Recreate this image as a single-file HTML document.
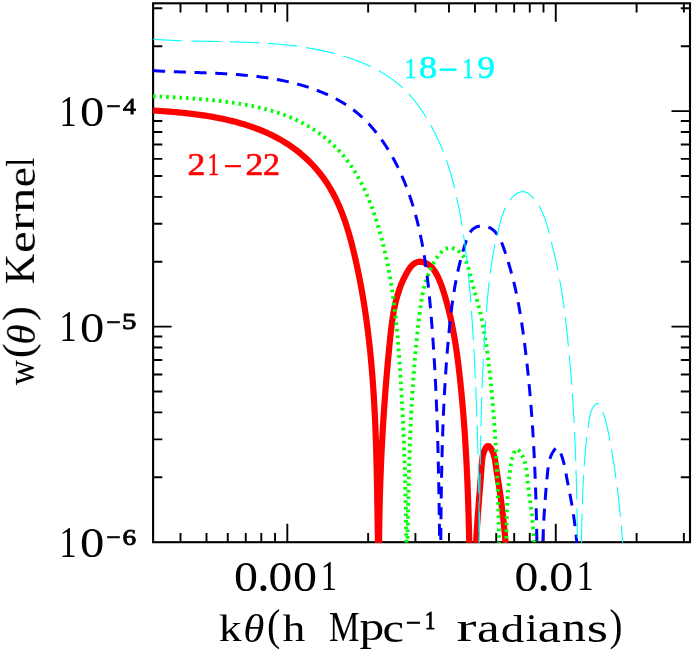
<!DOCTYPE html>
<html><head><meta charset="utf-8"><title>w(theta) Kernel</title>
<style>
html,body{margin:0;padding:0;background:#fff}
svg{display:block}
text{font-family:"Liberation Serif",serif}
</style></head><body>
<svg width="692" height="649" viewBox="0 0 692 649">
<rect width="692" height="649" fill="#fff"/>
<defs><clipPath id="c"><rect x="152.6" y="3.3" width="537.4" height="539.5"/></clipPath></defs>
<path d="M180.50 542.20v-9.20 M180.50 3.30v9.20 M206.51 542.20v-9.20 M206.51 3.30v9.20 M227.77 542.20v-9.20 M227.77 3.30v9.20 M245.74 542.20v-9.20 M245.74 3.30v9.20 M261.31 542.20v-9.20 M261.31 3.30v9.20 M275.04 542.20v-9.20 M275.04 3.30v9.20 M287.32 542.20v-18.50 M287.32 3.30v18.50 M368.14 542.20v-9.20 M368.14 3.30v9.20 M415.41 542.20v-9.20 M415.41 3.30v9.20 M448.95 542.20v-9.20 M448.95 3.30v9.20 M474.96 542.20v-9.20 M474.96 3.30v9.20 M496.22 542.20v-9.20 M496.22 3.30v9.20 M514.19 542.20v-9.20 M514.19 3.30v9.20 M529.76 542.20v-9.20 M529.76 3.30v9.20 M543.49 542.20v-9.20 M543.49 3.30v9.20 M555.77 542.20v-18.50 M555.77 3.30v18.50 M636.59 542.20v-9.20 M636.59 3.30v9.20 M683.86 542.20v-9.20 M683.86 3.30v9.20 M153.10 477.31h9.20 M690.00 477.31h-9.20 M153.10 439.35h9.20 M690.00 439.35h-9.20 M153.10 412.42h9.20 M690.00 412.42h-9.20 M153.10 391.53h9.20 M690.00 391.53h-9.20 M153.10 374.46h9.20 M690.00 374.46h-9.20 M153.10 360.03h9.20 M690.00 360.03h-9.20 M153.10 347.53h9.20 M690.00 347.53h-9.20 M153.10 336.50h9.20 M690.00 336.50h-9.20 M153.10 326.64h18.50 M690.00 326.64h-18.50 M153.10 261.75h9.20 M690.00 261.75h-9.20 M153.10 223.79h9.20 M690.00 223.79h-9.20 M153.10 196.86h9.20 M690.00 196.86h-9.20 M153.10 175.97h9.20 M690.00 175.97h-9.20 M153.10 158.90h9.20 M690.00 158.90h-9.20 M153.10 144.47h9.20 M690.00 144.47h-9.20 M153.10 131.97h9.20 M690.00 131.97h-9.20 M153.10 120.94h9.20 M690.00 120.94h-9.20 M153.10 111.08h18.50 M690.00 111.08h-18.50 M153.10 46.19h9.20 M690.00 46.19h-9.20 M153.10 8.23h9.20 M690.00 8.23h-9.20" stroke="#000" stroke-width="1.9" fill="none"/>
<rect x="153.1" y="3.3" width="536.9" height="538.9" fill="none" stroke="#000" stroke-width="2.1"/>
<g clip-path="url(#c)" fill="none" stroke-linejoin="round">
<path d="M153.06 110.55 L154.95 110.66 L156.84 110.78 L158.74 110.89 L160.64 111.02 L162.55 111.15 L164.47 111.28 L166.39 111.42 L168.31 111.56 L170.24 111.71 L172.18 111.87 L174.11 112.03 L176.05 112.20 L178.00 112.37 L179.94 112.55 L181.89 112.74 L183.84 112.94 L185.80 113.14 L187.75 113.36 L189.71 113.58 L191.67 113.81 L193.62 114.05 L195.58 114.30 L197.54 114.55 L199.50 114.82 L201.46 115.10 L203.42 115.39 L205.38 115.68 L207.34 115.99 L209.30 116.31 L211.25 116.65 L213.20 116.99 L215.15 117.34 L217.10 117.71 L219.05 118.09 L220.99 118.49 L222.93 118.89 L224.87 119.31 L226.80 119.74 L228.73 120.19 L230.65 120.65 L232.57 121.13 L234.48 121.62 L236.39 122.12 L238.29 122.64 L240.19 123.18 L242.08 123.73 L243.97 124.29 L245.85 124.88 L247.72 125.48 L249.58 126.09 L251.44 126.73 L253.29 127.38 L255.13 128.05 L256.96 128.73 L258.79 129.44 L260.60 130.16 L262.41 130.90 L264.20 131.66 L265.99 132.44 L267.77 133.24 L269.53 134.06 L271.29 134.90 L273.04 135.76 L274.77 136.64 L276.49 137.54 L278.20 138.47 L279.90 139.41 L281.59 140.38 L283.26 141.36 L284.92 142.37 L286.57 143.41 L288.21 144.46 L289.83 145.54 L291.44 146.64 L293.03 147.77 L294.61 148.92 L296.17 150.09 L297.72 151.29 L299.25 152.51 L300.77 153.75 L302.27 155.03 L303.76 156.32 L305.23 157.64 L306.67 158.98 L308.10 160.35 L309.52 161.73 L310.91 163.14 L312.28 164.56 L313.63 166.01 L314.95 167.47 L316.26 168.96 L317.54 170.46 L318.80 171.98 L320.03 173.51 L321.24 175.06 L322.42 176.63 L323.58 178.21 L324.71 179.81 L325.81 181.42 L326.89 183.04 L327.94 184.68 L328.97 186.33 L329.98 187.99 L330.96 189.66 L331.92 191.35 L332.85 193.05 L333.76 194.76 L334.66 196.48 L335.53 198.22 L336.38 199.96 L337.21 201.71 L338.02 203.48 L338.81 205.25 L339.58 207.03 L340.33 208.82 L341.07 210.62 L341.79 212.43 L342.49 214.25 L343.17 216.07 L343.84 217.90 L344.50 219.74 L345.13 221.58 L345.76 223.43 L346.37 225.29 L346.96 227.15 L347.55 229.02 L348.12 230.90 L348.68 232.77 L349.22 234.66 L349.76 236.54 L350.29 238.44 L350.80 240.33 L351.31 242.23 L351.80 244.13 L352.29 246.03 L352.77 247.94 L353.24 249.84 L353.70 251.75 L354.16 253.66 L354.61 255.58 L355.06 257.49 L355.49 259.40 L355.93 261.32 L356.35 263.23 L356.77 265.15 L357.19 267.06 L357.59 268.98 L358.00 270.90 L358.39 272.81 L358.78 274.73 L359.17 276.65 L359.55 278.58 L359.92 280.50 L360.29 282.42 L360.65 284.34 L361.01 286.27 L361.36 288.19 L361.71 290.12 L362.05 292.04 L362.39 293.97 L362.72 295.90 L363.04 297.82 L363.36 299.75 L363.68 301.68 L363.99 303.61 L364.29 305.54 L364.60 307.47 L364.89 309.41 L365.18 311.34 L365.47 313.27 L365.75 315.20 L366.02 317.14 L366.29 319.07 L366.56 321.01 L366.82 322.94 L367.08 324.88 L367.33 326.82 L367.58 328.76 L367.83 330.69 L368.07 332.63 L368.30 334.57 L368.53 336.51 L368.76 338.45 L368.98 340.39 L369.20 342.33 L369.42 344.28 L369.63 346.22 L369.83 348.16 L370.03 350.10 L370.23 352.05 L370.43 353.99 L370.62 355.94 L370.81 357.88 L370.99 359.83 L371.17 361.77 L371.34 363.72 L371.52 365.67 L371.69 367.61 L371.85 369.56 L372.01 371.51 L372.17 373.46 L372.33 375.41 L372.48 377.35 L372.62 379.30 L372.77 381.25 L372.91 383.20 L373.05 385.15 L373.19 387.10 L373.32 389.06 L373.45 391.01 L373.57 392.96 L373.70 394.91 L373.82 396.86 L373.94 398.81 L374.05 400.77 L374.16 402.72 L374.27 404.67 L374.38 406.63 L374.48 408.58 L374.59 410.53 L374.69 412.49 L374.78 414.44 L374.88 416.40 L374.97 418.35 L375.06 420.31 L375.15 422.26 L375.23 424.22 L375.31 426.17 L375.39 428.13 L375.47 430.08 L375.55 432.04 L375.62 433.99 L375.70 435.95 L375.77 437.91 L375.84 439.86 L375.90 441.82 L375.97 443.78 L376.03 445.73 L376.09 447.69 L376.15 449.65 L376.21 451.60 L376.27 453.56 L376.32 455.52 L376.38 457.47 L376.43 459.43 L376.48 461.39 L376.53 463.35 L376.58 465.30 L376.63 467.26 L376.67 469.22 L376.72 471.17 L376.76 473.13 L376.80 475.09 L376.85 477.05 L376.89 479.00 L376.93 480.96 L376.97 482.92 L377.00 484.87 L377.04 486.83 L377.08 488.79 L377.11 490.74 L377.15 492.70 L377.18 494.66 L377.22 496.61 L377.25 498.57 L377.28 500.52 L377.31 502.48 L377.35 504.44 L377.38 506.39 L377.41 508.35 L377.44 510.30 L377.47 512.26 L377.50 514.21 L377.53 516.17 L377.56 518.12 L377.60 520.08 L377.63 522.03 L377.66 523.99 L377.69 525.94 L377.72 527.89 L377.75 529.85 L377.78 531.80 L377.81 533.75 L377.85 535.70 L377.88 537.66 L377.91 539.61 L377.94 541.56 L377.98 543.51 L378.01 545.46 L378.05 547.41 L378.08 549.36 L378.12 551.31 L378.16 553.26 L378.20 555.21 L378.24 557.16 L378.28 559.11 L378.32 561.06 L378.36 563.01 L378.40 564.95" stroke="#f00" stroke-width="6.2"/>
<path d="M379.01 565.02 L379.00 562.91 L379.00 560.80 L379.00 558.70 L379.00 556.59 L379.00 554.48 L379.01 552.38 L379.02 550.27 L379.03 548.17 L379.04 546.06 L379.05 543.95 L379.06 541.85 L379.08 539.74 L379.10 537.64 L379.12 535.53 L379.14 533.43 L379.17 531.32 L379.20 529.22 L379.23 527.11 L379.26 525.01 L379.29 522.91 L379.32 520.80 L379.36 518.70 L379.40 516.59 L379.44 514.49 L379.48 512.39 L379.53 510.28 L379.58 508.18 L379.63 506.08 L379.68 503.97 L379.73 501.87 L379.78 499.77 L379.84 497.67 L379.90 495.56 L379.96 493.46 L380.02 491.36 L380.09 489.26 L380.16 487.16 L380.23 485.06 L380.30 482.95 L380.37 480.85 L380.45 478.75 L380.52 476.65 L380.60 474.55 L380.68 472.45 L380.77 470.35 L380.85 468.25 L380.94 466.15 L381.03 464.05 L381.12 461.95 L381.21 459.85 L381.31 457.75 L381.41 455.65 L381.51 453.55 L381.61 451.45 L381.71 449.35 L381.82 447.25 L381.92 445.15 L382.03 443.05 L382.15 440.95 L382.26 438.85 L382.38 436.75 L382.49 434.65 L382.61 432.55 L382.74 430.45 L382.86 428.36 L382.99 426.26 L383.12 424.16 L383.25 422.06 L383.38 419.96 L383.51 417.86 L383.65 415.76 L383.79 413.67 L383.93 411.57 L384.07 409.47 L384.22 407.37 L384.36 405.28 L384.51 403.18 L384.66 401.08 L384.82 398.98 L384.97 396.88 L385.13 394.79 L385.29 392.69 L385.45 390.59 L385.61 388.50 L385.78 386.40 L385.95 384.30 L386.12 382.20 L386.29 380.11 L386.46 378.01 L386.64 375.91 L386.82 373.82 L387.00 371.72 L387.18 369.62 L387.37 367.53 L387.55 365.43 L387.74 363.33 L387.93 361.24 L388.12 359.14 L388.32 357.04 L388.52 354.95 L388.72 352.85 L388.92 350.76 L389.12 348.66 L389.33 346.56 L389.53 344.47 L389.74 342.37 L389.96 340.27 L390.17 338.18 L390.39 336.08 L390.61 333.99 L390.84 331.89 L391.08 329.80 L391.32 327.71 L391.58 325.62 L391.85 323.53 L392.13 321.45 L392.42 319.37 L392.74 317.29 L393.07 315.21 L393.42 313.14 L393.79 311.07 L394.18 309.01 L394.60 306.95 L395.04 304.90 L395.51 302.85 L396.00 300.80 L396.53 298.77 L397.09 296.74 L397.67 294.71 L398.30 292.70 L398.95 290.69 L399.65 288.68 L400.38 286.69 L401.15 284.70 L401.96 282.73 L402.82 280.76 L403.72 278.80 L404.66 276.84 L405.65 274.90 L406.69 272.98 L407.79 271.09 L408.95 269.27 L410.17 267.57 L411.48 266.02 L412.88 264.65 L414.36 263.50 L415.95 262.60 L417.66 262.00 L419.47 261.72 L421.42 261.80 L423.46 262.25 L425.52 263.01 L427.53 264.04 L429.42 265.30 L431.13 266.76 L432.66 268.37 L434.02 270.10 L435.25 271.94 L436.35 273.85 L437.36 275.80 L438.30 277.77 L439.17 279.74 L439.99 281.71 L440.77 283.68 L441.50 285.65 L442.20 287.63 L442.87 289.61 L443.51 291.59 L444.14 293.58 L444.75 295.57 L445.35 297.57 L445.93 299.57 L446.50 301.58 L447.05 303.59 L447.59 305.61 L448.12 307.63 L448.63 309.65 L449.13 311.68 L449.62 313.72 L450.09 315.75 L450.56 317.80 L451.01 319.84 L451.45 321.89 L451.87 323.94 L452.29 326.00 L452.70 328.06 L453.09 330.12 L453.48 332.18 L453.85 334.25 L454.22 336.32 L454.57 338.39 L454.92 340.47 L455.26 342.55 L455.59 344.63 L455.91 346.71 L456.22 348.79 L456.52 350.88 L456.82 352.96 L457.11 355.05 L457.40 357.14 L457.67 359.24 L457.94 361.33 L458.21 363.42 L458.47 365.52 L458.72 367.61 L458.97 369.71 L459.21 371.80 L459.45 373.90 L459.68 376.00 L459.91 378.10 L460.14 380.19 L460.36 382.29 L460.58 384.39 L460.79 386.49 L461.00 388.58 L461.21 390.68 L461.42 392.78 L461.62 394.87 L461.82 396.97 L462.01 399.07 L462.20 401.17 L462.39 403.26 L462.57 405.36 L462.76 407.46 L462.93 409.55 L463.11 411.65 L463.28 413.75 L463.45 415.85 L463.62 417.94 L463.78 420.04 L463.94 422.14 L464.10 424.23 L464.25 426.33 L464.40 428.43 L464.55 430.53 L464.70 432.62 L464.84 434.72 L464.98 436.82 L465.12 438.91 L465.25 441.01 L465.38 443.11 L465.51 445.21 L465.64 447.31 L465.76 449.40 L465.89 451.50 L466.00 453.60 L466.12 455.70 L466.24 457.79 L466.35 459.89 L466.46 461.99 L466.57 464.09 L466.67 466.19 L466.77 468.29 L466.88 470.39 L466.97 472.48 L467.07 474.58 L467.17 476.68 L467.26 478.78 L467.35 480.88 L467.44 482.98 L467.52 485.08 L467.61 487.18 L467.69 489.28 L467.77 491.38 L467.85 493.48 L467.93 495.58 L468.00 497.68 L468.08 499.78 L468.15 501.88 L468.22 503.98 L468.29 506.09 L468.36 508.19 L468.42 510.29 L468.49 512.39 L468.55 514.49 L468.61 516.60 L468.67 518.70 L468.73 520.80 L468.79 522.90 L468.84 525.01 L468.90 527.11 L468.95 529.21 L469.00 531.32 L469.05 533.42 L469.10 535.53 L469.15 537.63 L469.20 539.74 L469.25 541.84 L469.29 543.95 L469.34 546.05 L469.38 548.16 L469.42 550.27 L469.47 552.37 L469.51 554.48 L469.55 556.59 L469.59 558.70 L469.63 560.80 L469.66 562.91 L469.70 565.02" stroke="#f00" stroke-width="6.2"/>
<path d="M475.01 565.00 L475.04 564.19 L475.06 563.37 L475.09 562.56 L475.12 561.74 L475.15 560.93 L475.18 560.11 L475.21 559.30 L475.25 558.48 L475.28 557.67 L475.31 556.85 L475.35 556.04 L475.38 555.23 L475.42 554.41 L475.46 553.60 L475.50 552.78 L475.53 551.97 L475.57 551.16 L475.61 550.34 L475.65 549.53 L475.69 548.72 L475.74 547.90 L475.78 547.09 L475.82 546.28 L475.87 545.46 L475.91 544.65 L475.96 543.84 L476.00 543.03 L476.05 542.21 L476.09 541.40 L476.14 540.59 L476.19 539.78 L476.24 538.96 L476.29 538.15 L476.34 537.34 L476.39 536.53 L476.44 535.72 L476.49 534.90 L476.54 534.09 L476.59 533.28 L476.65 532.47 L476.70 531.66 L476.75 530.84 L476.81 530.03 L476.86 529.22 L476.92 528.41 L476.97 527.60 L477.03 526.79 L477.08 525.98 L477.14 525.16 L477.20 524.35 L477.25 523.54 L477.31 522.73 L477.37 521.92 L477.43 521.11 L477.49 520.30 L477.55 519.49 L477.60 518.68 L477.66 517.86 L477.72 517.05 L477.78 516.24 L477.84 515.43 L477.91 514.62 L477.97 513.81 L478.03 513.00 L478.09 512.19 L478.15 511.38 L478.21 510.57 L478.27 509.76 L478.34 508.94 L478.40 508.13 L478.46 507.32 L478.52 506.51 L478.59 505.70 L478.65 504.89 L478.71 504.08 L478.78 503.27 L478.84 502.46 L478.90 501.65 L478.97 500.84 L479.03 500.03 L479.09 499.22 L479.16 498.40 L479.22 497.59 L479.29 496.78 L479.35 495.97 L479.41 495.16 L479.48 494.35 L479.54 493.54 L479.61 492.73 L479.67 491.92 L479.73 491.10 L479.80 490.29 L479.86 489.48 L479.92 488.67 L479.99 487.86 L480.05 487.05 L480.12 486.24 L480.18 485.43 L480.24 484.61 L480.31 483.80 L480.37 482.99 L480.43 482.18 L480.49 481.37 L480.56 480.56 L480.62 479.74 L480.68 478.93 L480.74 478.12 L480.81 477.31 L480.87 476.50 L480.93 475.68 L480.99 474.87 L481.05 474.06 L481.11 473.25 L481.17 472.43 L481.23 471.62 L481.29 470.81 L481.35 470.00 L481.41 469.18 L481.47 468.37 L481.53 467.56 L481.59 466.75 L481.65 465.93 L481.70 465.12 L481.76 464.31 L481.82 463.49 L481.89 462.68 L481.96 461.86 L482.03 461.05 L482.12 460.23 L482.22 459.41 L482.33 458.59 L482.45 457.77 L482.59 456.94 L482.75 456.12 L482.93 455.29 L483.13 454.46 L483.36 453.62 L483.61 452.79 L483.89 451.95 L484.19 451.10 L484.53 450.26 L484.89 449.43 L485.28 448.65 L485.70 447.92 L486.13 447.28 L486.58 446.74 L487.05 446.33 L487.53 446.06 L488.02 445.96 L488.52 446.04 L489.02 446.28 L489.53 446.67 L490.02 447.18 L490.51 447.80 L490.98 448.50 L491.43 449.26 L491.86 450.06 L492.27 450.88 L492.64 451.70 L492.98 452.53 L493.29 453.35 L493.57 454.17 L493.83 454.99 L494.07 455.81 L494.28 456.63 L494.48 457.45 L494.66 458.27 L494.83 459.09 L494.98 459.91 L495.12 460.72 L495.25 461.54 L495.37 462.35 L495.49 463.17 L495.60 463.98 L495.72 464.79 L495.83 465.60 L495.94 466.41 L496.06 467.21 L496.18 468.02 L496.30 468.83 L496.42 469.63 L496.54 470.43 L496.66 471.24 L496.79 472.04 L496.91 472.84 L497.04 473.64 L497.17 474.44 L497.30 475.24 L497.42 476.04 L497.55 476.84 L497.68 477.64 L497.81 478.43 L497.94 479.23 L498.07 480.03 L498.20 480.83 L498.33 481.63 L498.45 482.42 L498.58 483.22 L498.71 484.02 L498.83 484.82 L498.96 485.62 L499.08 486.42 L499.21 487.22 L499.33 488.02 L499.45 488.82 L499.57 489.63 L499.69 490.43 L499.80 491.23 L499.92 492.04 L500.03 492.84 L500.14 493.65 L500.25 494.46 L500.36 495.26 L500.47 496.07 L500.58 496.88 L500.69 497.69 L500.79 498.49 L500.90 499.30 L501.00 500.11 L501.11 500.92 L501.21 501.73 L501.31 502.54 L501.41 503.35 L501.51 504.16 L501.61 504.97 L501.71 505.78 L501.81 506.59 L501.91 507.40 L502.01 508.21 L502.10 509.02 L502.20 509.83 L502.30 510.64 L502.39 511.45 L502.49 512.26 L502.58 513.07 L502.68 513.88 L502.77 514.69 L502.87 515.50 L502.96 516.31 L503.05 517.12 L503.14 517.93 L503.23 518.74 L503.32 519.55 L503.41 520.36 L503.50 521.17 L503.59 521.98 L503.68 522.79 L503.77 523.60 L503.85 524.40 L503.94 525.21 L504.02 526.02 L504.10 526.83 L504.19 527.64 L504.27 528.45 L504.35 529.26 L504.43 530.07 L504.51 530.88 L504.58 531.69 L504.66 532.50 L504.73 533.31 L504.81 534.12 L504.88 534.93 L504.95 535.74 L505.02 536.55 L505.09 537.36 L505.16 538.17 L505.22 538.98 L505.29 539.79 L505.35 540.60 L505.41 541.41 L505.48 542.22 L505.53 543.03 L505.59 543.84 L505.65 544.66 L505.70 545.47 L505.75 546.28 L505.81 547.09 L505.86 547.90 L505.90 548.71 L505.95 549.53 L505.99 550.34 L506.04 551.15 L506.08 551.96 L506.12 552.78 L506.15 553.59 L506.19 554.40 L506.22 555.22 L506.25 556.03 L506.28 556.84 L506.31 557.66 L506.34 558.47 L506.36 559.29 L506.38 560.10 L506.40 560.92 L506.42 561.73 L506.44 562.55 L506.45 563.37 L506.46 564.18 L506.47 565.00" stroke="#f00" stroke-width="6.2"/>
<path d="M153.03 96.24 L155.11 96.35 L157.19 96.45 L159.27 96.56 L161.35 96.66 L163.43 96.77 L165.51 96.87 L167.59 96.98 L169.68 97.09 L171.76 97.20 L173.84 97.32 L175.93 97.43 L178.01 97.55 L180.10 97.67 L182.18 97.80 L184.27 97.93 L186.35 98.06 L188.44 98.20 L190.52 98.34 L192.61 98.48 L194.69 98.64 L196.78 98.79 L198.86 98.96 L200.95 99.13 L203.03 99.30 L205.12 99.48 L207.20 99.67 L209.28 99.87 L211.36 100.07 L213.45 100.29 L215.53 100.51 L217.61 100.73 L219.69 100.97 L221.77 101.22 L223.84 101.47 L225.92 101.74 L228.00 102.02 L230.07 102.30 L232.15 102.60 L234.22 102.90 L236.29 103.22 L238.36 103.55 L240.43 103.89 L242.50 104.25 L244.56 104.61 L246.63 104.99 L248.69 105.38 L250.75 105.79 L252.82 106.21 L254.87 106.64 L256.93 107.09 L258.98 107.55 L261.03 108.03 L263.07 108.53 L265.11 109.04 L267.15 109.57 L269.18 110.12 L271.20 110.69 L273.22 111.28 L275.23 111.89 L277.24 112.52 L279.23 113.18 L281.22 113.85 L283.20 114.55 L285.17 115.27 L287.14 116.02 L289.09 116.79 L291.03 117.59 L292.96 118.41 L294.88 119.26 L296.79 120.14 L298.69 121.04 L300.57 121.98 L302.44 122.94 L304.30 123.93 L306.15 124.95 L307.97 126.00 L309.79 127.07 L311.58 128.17 L313.36 129.30 L315.13 130.46 L316.87 131.64 L318.60 132.85 L320.30 134.08 L321.99 135.34 L323.65 136.62 L325.30 137.93 L326.92 139.26 L328.52 140.62 L330.09 142.00 L331.64 143.41 L333.17 144.83 L334.67 146.28 L336.15 147.75 L337.60 149.25 L339.02 150.76 L340.41 152.30 L341.78 153.86 L343.12 155.43 L344.44 157.03 L345.73 158.65 L346.99 160.29 L348.23 161.94 L349.44 163.62 L350.63 165.31 L351.80 167.01 L352.94 168.74 L354.06 170.48 L355.16 172.24 L356.23 174.01 L357.28 175.80 L358.31 177.60 L359.32 179.42 L360.31 181.25 L361.28 183.09 L362.23 184.95 L363.15 186.82 L364.06 188.70 L364.95 190.59 L365.82 192.49 L366.67 194.40 L367.51 196.33 L368.32 198.26 L369.12 200.20 L369.91 202.15 L370.67 204.11 L371.42 206.08 L372.16 208.05 L372.87 210.03 L373.58 212.02 L374.27 214.01 L374.94 216.01 L375.60 218.02 L376.25 220.03 L376.88 222.04 L377.51 224.06 L378.11 226.08 L378.71 228.10 L379.30 230.13 L379.87 232.15 L380.43 234.18 L380.99 236.21 L381.53 238.25 L382.06 240.28 L382.58 242.32 L383.09 244.35 L383.59 246.39 L384.08 248.43 L384.56 250.47 L385.03 252.52 L385.49 254.56 L385.94 256.60 L386.38 258.65 L386.81 260.70 L387.24 262.75 L387.65 264.80 L388.06 266.85 L388.46 268.90 L388.84 270.96 L389.23 273.01 L389.60 275.07 L389.96 277.12 L390.32 279.18 L390.66 281.24 L391.01 283.30 L391.34 285.36 L391.66 287.43 L391.98 289.49 L392.29 291.56 L392.59 293.62 L392.89 295.69 L393.18 297.76 L393.46 299.82 L393.74 301.89 L394.01 303.96 L394.28 306.04 L394.53 308.11 L394.79 310.18 L395.03 312.25 L395.27 314.33 L395.51 316.40 L395.74 318.48 L395.96 320.55 L396.18 322.63 L396.39 324.71 L396.60 326.79 L396.80 328.87 L397.00 330.95 L397.20 333.03 L397.39 335.11 L397.58 337.19 L397.76 339.27 L397.94 341.35 L398.11 343.44 L398.28 345.52 L398.45 347.60 L398.61 349.69 L398.77 351.77 L398.93 353.86 L399.08 355.94 L399.23 358.03 L399.38 360.12 L399.53 362.20 L399.67 364.29 L399.81 366.38 L399.95 368.46 L400.09 370.55 L400.22 372.64 L400.35 374.73 L400.48 376.82 L400.61 378.90 L400.74 380.99 L400.87 383.08 L400.99 385.17 L401.12 387.26 L401.24 389.35 L401.36 391.44 L401.48 393.52 L401.60 395.61 L401.72 397.70 L401.83 399.79 L401.94 401.88 L402.06 403.97 L402.17 406.06 L402.28 408.15 L402.39 410.24 L402.49 412.33 L402.60 414.42 L402.70 416.51 L402.81 418.60 L402.91 420.69 L403.01 422.78 L403.11 424.87 L403.20 426.96 L403.30 429.05 L403.39 431.14 L403.49 433.23 L403.58 435.32 L403.67 437.41 L403.76 439.50 L403.84 441.60 L403.93 443.69 L404.01 445.78 L404.10 447.87 L404.18 449.96 L404.26 452.05 L404.34 454.14 L404.41 456.23 L404.49 458.32 L404.56 460.42 L404.63 462.51 L404.70 464.60 L404.77 466.69 L404.84 468.78 L404.91 470.87 L404.97 472.97 L405.04 475.06 L405.10 477.15 L405.16 479.24 L405.22 481.33 L405.27 483.42 L405.33 485.52 L405.38 487.61 L405.44 489.70 L405.49 491.79 L405.54 493.88 L405.59 495.97 L405.63 498.07 L405.68 500.16 L405.72 502.25 L405.76 504.34 L405.80 506.43 L405.84 508.52 L405.88 510.62 L405.92 512.71 L405.95 514.80 L405.98 516.89 L406.02 518.98 L406.04 521.08 L406.07 523.17 L406.10 525.26 L406.12 527.35 L406.15 529.44 L406.17 531.53 L406.19 533.63 L406.21 535.72 L406.22 537.81 L406.24 539.90 L406.25 541.99 L406.27 544.08 L406.28 546.17 L406.29 548.27 L406.29 550.36 L406.30 552.45 L406.30 554.54 L406.30 556.63 L406.31 558.72 L406.30 560.81 L406.30 562.90 L406.30 565.00" stroke="#0f0" stroke-width="3.9" stroke-dasharray="2.6 4.0"/>
<path d="M407.05 565.02 L407.10 562.82 L407.14 560.62 L407.18 558.42 L407.23 556.22 L407.27 554.02 L407.31 551.82 L407.35 549.62 L407.39 547.42 L407.43 545.22 L407.47 543.02 L407.52 540.82 L407.56 538.63 L407.60 536.43 L407.64 534.23 L407.68 532.03 L407.72 529.83 L407.76 527.63 L407.80 525.44 L407.85 523.24 L407.89 521.04 L407.93 518.84 L407.97 516.65 L408.02 514.45 L408.06 512.25 L408.11 510.05 L408.15 507.86 L408.20 505.66 L408.24 503.46 L408.29 501.27 L408.34 499.07 L408.39 496.87 L408.44 494.68 L408.49 492.48 L408.54 490.28 L408.59 488.09 L408.64 485.89 L408.70 483.69 L408.75 481.50 L408.81 479.30 L408.87 477.11 L408.92 474.91 L408.98 472.71 L409.05 470.52 L409.11 468.32 L409.17 466.13 L409.24 463.93 L409.31 461.74 L409.37 459.54 L409.44 457.35 L409.52 455.15 L409.59 452.96 L409.66 450.76 L409.74 448.57 L409.82 446.37 L409.90 444.18 L409.98 441.99 L410.07 439.79 L410.15 437.60 L410.24 435.40 L410.33 433.21 L410.42 431.02 L410.52 428.82 L410.61 426.63 L410.71 424.44 L410.81 422.24 L410.91 420.05 L411.02 417.86 L411.13 415.66 L411.24 413.47 L411.35 411.28 L411.47 409.08 L411.58 406.89 L411.70 404.70 L411.83 402.51 L411.95 400.32 L412.08 398.12 L412.21 395.93 L412.35 393.74 L412.48 391.55 L412.62 389.36 L412.76 387.16 L412.91 384.97 L413.06 382.78 L413.21 380.59 L413.37 378.40 L413.52 376.21 L413.68 374.02 L413.85 371.83 L414.02 369.64 L414.19 367.44 L414.36 365.25 L414.54 363.06 L414.72 360.87 L414.91 358.68 L415.09 356.49 L415.29 354.30 L415.48 352.11 L415.68 349.92 L415.88 347.73 L416.09 345.54 L416.30 343.36 L416.51 341.17 L416.73 338.98 L416.95 336.79 L417.18 334.60 L417.41 332.41 L417.64 330.22 L417.88 328.03 L418.12 325.84 L418.37 323.66 L418.62 321.47 L418.88 319.28 L419.14 317.09 L419.40 314.90 L419.67 312.72 L419.95 310.53 L420.24 308.35 L420.55 306.17 L420.86 303.99 L421.20 301.81 L421.56 299.65 L421.94 297.48 L422.35 295.32 L422.78 293.17 L423.24 291.03 L423.74 288.89 L424.27 286.76 L424.83 284.65 L425.44 282.54 L426.08 280.44 L426.77 278.35 L427.50 276.28 L428.28 274.21 L429.12 272.16 L430.00 270.13 L430.94 268.10 L431.94 266.10 L432.99 264.11 L434.11 262.13 L435.29 260.17 L436.54 258.23 L437.85 256.34 L439.24 254.54 L440.70 252.86 L442.23 251.36 L443.84 250.08 L445.53 249.05 L447.29 248.31 L449.14 247.92 L451.07 247.91 L453.07 248.29 L455.09 249.04 L457.05 250.08 L458.90 251.35 L460.56 252.81 L462.04 254.42 L463.34 256.16 L464.48 258.02 L465.49 259.98 L466.37 262.02 L467.16 264.14 L467.86 266.31 L468.50 268.52 L469.09 270.75 L469.66 273.00 L470.22 275.23 L470.79 277.45 L471.36 279.64 L471.94 281.82 L472.52 283.99 L473.11 286.14 L473.70 288.27 L474.29 290.40 L474.88 292.51 L475.46 294.62 L476.05 296.72 L476.62 298.81 L477.20 300.91 L477.76 302.99 L478.31 305.08 L478.86 307.17 L479.39 309.27 L479.91 311.36 L480.41 313.47 L480.90 315.58 L481.38 317.69 L481.84 319.82 L482.28 321.94 L482.72 324.08 L483.14 326.22 L483.54 328.36 L483.94 330.51 L484.32 332.67 L484.69 334.82 L485.05 336.99 L485.40 339.15 L485.74 341.32 L486.07 343.50 L486.39 345.67 L486.70 347.85 L487.01 350.03 L487.30 352.22 L487.59 354.41 L487.87 356.59 L488.14 358.78 L488.41 360.97 L488.67 363.17 L488.92 365.36 L489.17 367.55 L489.42 369.75 L489.66 371.94 L489.90 374.14 L490.13 376.33 L490.36 378.52 L490.58 380.72 L490.80 382.91 L491.02 385.10 L491.24 387.30 L491.45 389.49 L491.65 391.68 L491.86 393.87 L492.06 396.07 L492.25 398.26 L492.45 400.45 L492.64 402.64 L492.82 404.83 L493.00 407.02 L493.18 409.21 L493.36 411.41 L493.53 413.60 L493.70 415.79 L493.87 417.98 L494.03 420.17 L494.19 422.36 L494.35 424.55 L494.50 426.74 L494.65 428.93 L494.80 431.12 L494.95 433.31 L495.09 435.50 L495.23 437.69 L495.36 439.88 L495.50 442.07 L495.63 444.27 L495.76 446.46 L495.88 448.65 L496.00 450.84 L496.12 453.03 L496.24 455.22 L496.35 457.41 L496.47 459.60 L496.57 461.79 L496.68 463.98 L496.79 466.17 L496.89 468.37 L496.99 470.56 L497.08 472.75 L497.18 474.94 L497.27 477.13 L497.36 479.32 L497.45 481.52 L497.53 483.71 L497.62 485.90 L497.70 488.09 L497.78 490.29 L497.85 492.48 L497.93 494.67 L498.00 496.87 L498.07 499.06 L498.14 501.26 L498.21 503.45 L498.27 505.64 L498.34 507.84 L498.40 510.03 L498.46 512.23 L498.51 514.43 L498.57 516.62 L498.62 518.82 L498.68 521.01 L498.73 523.21 L498.78 525.41 L498.82 527.61 L498.87 529.80 L498.92 532.00 L498.96 534.20 L499.00 536.40 L499.04 538.60 L499.08 540.80 L499.12 543.00 L499.15 545.20 L499.19 547.40 L499.22 549.60 L499.25 551.81 L499.29 554.01 L499.32 556.21 L499.35 558.41 L499.37 560.62 L499.40 562.82 L499.43 565.03" stroke="#0f0" stroke-width="3.9" stroke-dasharray="2.6 4.0"/>
<path d="M505.80 564.98 L505.82 564.20 L505.83 563.42 L505.85 562.63 L505.87 561.85 L505.89 561.06 L505.91 560.28 L505.92 559.49 L505.94 558.71 L505.96 557.92 L505.97 557.13 L505.99 556.35 L506.00 555.56 L506.02 554.77 L506.03 553.98 L506.04 553.20 L506.06 552.41 L506.07 551.62 L506.09 550.83 L506.10 550.04 L506.11 549.25 L506.13 548.46 L506.14 547.67 L506.15 546.88 L506.16 546.09 L506.18 545.30 L506.19 544.51 L506.20 543.72 L506.21 542.93 L506.23 542.13 L506.24 541.34 L506.25 540.55 L506.26 539.76 L506.28 538.97 L506.29 538.17 L506.30 537.38 L506.32 536.59 L506.33 535.79 L506.34 535.00 L506.36 534.21 L506.37 533.42 L506.39 532.62 L506.40 531.83 L506.42 531.04 L506.43 530.24 L506.45 529.45 L506.46 528.66 L506.48 527.86 L506.50 527.07 L506.51 526.27 L506.53 525.48 L506.55 524.69 L506.57 523.89 L506.59 523.10 L506.61 522.31 L506.63 521.51 L506.65 520.72 L506.67 519.93 L506.69 519.13 L506.71 518.34 L506.74 517.55 L506.76 516.75 L506.79 515.96 L506.81 515.17 L506.84 514.37 L506.86 513.58 L506.89 512.79 L506.92 512.00 L506.95 511.20 L506.98 510.41 L507.01 509.62 L507.04 508.83 L507.08 508.03 L507.11 507.24 L507.14 506.45 L507.18 505.66 L507.22 504.87 L507.25 504.08 L507.29 503.29 L507.33 502.50 L507.37 501.71 L507.41 500.92 L507.46 500.13 L507.50 499.34 L507.55 498.55 L507.59 497.76 L507.64 496.97 L507.69 496.19 L507.74 495.40 L507.79 494.61 L507.84 493.82 L507.90 493.04 L507.95 492.25 L508.01 491.46 L508.07 490.68 L508.13 489.89 L508.19 489.11 L508.25 488.32 L508.31 487.54 L508.38 486.76 L508.44 485.97 L508.51 485.19 L508.58 484.41 L508.65 483.63 L508.73 482.84 L508.80 482.06 L508.88 481.28 L508.95 480.50 L509.03 479.72 L509.11 478.94 L509.19 478.16 L509.28 477.39 L509.36 476.61 L509.45 475.83 L509.54 475.06 L509.63 474.28 L509.73 473.50 L509.82 472.73 L509.92 471.95 L510.02 471.18 L510.12 470.41 L510.22 469.63 L510.32 468.86 L510.43 468.09 L510.54 467.32 L510.65 466.55 L510.76 465.78 L510.87 465.01 L510.99 464.24 L511.11 463.47 L511.25 462.69 L511.39 461.91 L511.54 461.11 L511.71 460.31 L511.89 459.49 L512.09 458.66 L512.31 457.80 L512.55 456.93 L512.82 456.04 L513.11 455.14 L513.43 454.23 L513.77 453.35 L514.13 452.51 L514.52 451.73 L514.92 451.04 L515.35 450.44 L515.79 449.97 L516.25 449.64 L516.72 449.47 L517.21 449.48 L517.71 449.65 L518.22 449.96 L518.73 450.40 L519.24 450.94 L519.74 451.56 L520.23 452.25 L520.70 452.98 L521.16 453.73 L521.60 454.48 L522.01 455.24 L522.40 456.00 L522.77 456.76 L523.11 457.52 L523.44 458.29 L523.75 459.05 L524.04 459.82 L524.31 460.58 L524.57 461.35 L524.81 462.12 L525.03 462.89 L525.24 463.66 L525.43 464.44 L525.62 465.21 L525.78 465.98 L525.94 466.76 L526.09 467.54 L526.22 468.31 L526.35 469.09 L526.46 469.87 L526.57 470.65 L526.67 471.43 L526.77 472.21 L526.85 472.99 L526.93 473.77 L527.01 474.55 L527.09 475.33 L527.16 476.12 L527.22 476.90 L527.29 477.68 L527.35 478.46 L527.42 479.25 L527.48 480.03 L527.55 480.82 L527.62 481.60 L527.69 482.38 L527.76 483.17 L527.84 483.95 L527.92 484.74 L528.00 485.52 L528.09 486.30 L528.18 487.09 L528.28 487.87 L528.38 488.66 L528.48 489.44 L528.58 490.22 L528.68 491.01 L528.79 491.79 L528.90 492.58 L529.01 493.36 L529.12 494.14 L529.23 494.93 L529.34 495.71 L529.46 496.50 L529.57 497.28 L529.69 498.06 L529.80 498.85 L529.91 499.63 L530.03 500.42 L530.14 501.20 L530.25 501.99 L530.37 502.77 L530.48 503.56 L530.59 504.34 L530.69 505.13 L530.80 505.91 L530.90 506.70 L531.01 507.48 L531.11 508.27 L531.21 509.05 L531.31 509.84 L531.40 510.62 L531.50 511.41 L531.59 512.19 L531.68 512.98 L531.78 513.76 L531.86 514.55 L531.95 515.33 L532.04 516.12 L532.12 516.91 L532.21 517.69 L532.29 518.48 L532.37 519.27 L532.45 520.05 L532.53 520.84 L532.61 521.62 L532.68 522.41 L532.76 523.20 L532.83 523.98 L532.90 524.77 L532.97 525.56 L533.04 526.34 L533.11 527.13 L533.18 527.92 L533.24 528.71 L533.31 529.49 L533.37 530.28 L533.43 531.07 L533.49 531.86 L533.55 532.64 L533.61 533.43 L533.67 534.22 L533.73 535.01 L533.78 535.79 L533.84 536.58 L533.89 537.37 L533.94 538.16 L534.00 538.95 L534.05 539.73 L534.10 540.52 L534.14 541.31 L534.19 542.10 L534.24 542.89 L534.29 543.68 L534.33 544.47 L534.37 545.25 L534.42 546.04 L534.46 546.83 L534.50 547.62 L534.54 548.41 L534.58 549.20 L534.62 549.99 L534.66 550.78 L534.70 551.57 L534.74 552.36 L534.77 553.15 L534.81 553.94 L534.84 554.73 L534.88 555.52 L534.91 556.31 L534.94 557.10 L534.97 557.89 L535.01 558.68 L535.04 559.47 L535.07 560.26 L535.10 561.05 L535.13 561.84 L535.15 562.63 L535.18 563.42 L535.21 564.21 L535.24 565.00" stroke="#0f0" stroke-width="3.9" stroke-dasharray="2.6 4.0"/>
<path d="M153.18 70.61 L155.38 70.75 L157.58 70.88 L159.79 71.01 L162.00 71.13 L164.22 71.24 L166.45 71.35 L168.69 71.46 L170.93 71.56 L173.17 71.65 L175.43 71.74 L177.68 71.83 L179.94 71.92 L182.21 72.00 L184.48 72.09 L186.75 72.17 L189.03 72.25 L191.31 72.33 L193.60 72.41 L195.89 72.49 L198.18 72.57 L200.48 72.65 L202.77 72.74 L205.07 72.83 L207.37 72.92 L209.68 73.01 L211.98 73.11 L214.29 73.21 L216.60 73.32 L218.91 73.43 L221.22 73.55 L223.53 73.68 L225.84 73.81 L228.15 73.95 L230.46 74.09 L232.77 74.25 L235.08 74.41 L237.39 74.58 L239.70 74.76 L242.01 74.96 L244.31 75.16 L246.62 75.37 L248.92 75.59 L251.22 75.83 L253.52 76.08 L255.81 76.34 L258.10 76.61 L260.39 76.90 L262.68 77.20 L264.96 77.52 L267.24 77.85 L269.51 78.20 L271.78 78.56 L274.05 78.94 L276.31 79.34 L278.56 79.75 L280.81 80.19 L283.06 80.64 L285.30 81.11 L287.53 81.60 L289.76 82.10 L291.98 82.63 L294.20 83.18 L296.41 83.75 L298.61 84.35 L300.80 84.96 L302.99 85.60 L305.17 86.26 L307.34 86.94 L309.50 87.65 L311.66 88.38 L313.81 89.14 L315.94 89.92 L318.07 90.73 L320.19 91.57 L322.30 92.43 L324.40 93.32 L326.49 94.24 L328.57 95.18 L330.63 96.16 L332.68 97.16 L334.72 98.19 L336.74 99.26 L338.73 100.35 L340.71 101.48 L342.67 102.64 L344.61 103.83 L346.52 105.06 L348.41 106.32 L350.27 107.61 L352.11 108.94 L353.92 110.31 L355.70 111.71 L357.45 113.14 L359.17 114.61 L360.87 116.11 L362.54 117.64 L364.18 119.20 L365.79 120.80 L367.38 122.42 L368.94 124.06 L370.48 125.74 L371.99 127.44 L373.47 129.17 L374.93 130.92 L376.36 132.70 L377.77 134.49 L379.15 136.32 L380.51 138.16 L381.85 140.02 L383.15 141.90 L384.44 143.80 L385.70 145.71 L386.94 147.65 L388.15 149.60 L389.34 151.56 L390.51 153.54 L391.66 155.53 L392.78 157.53 L393.88 159.55 L394.96 161.57 L396.01 163.61 L397.05 165.65 L398.06 167.71 L399.05 169.77 L400.03 171.83 L400.98 173.91 L401.91 175.99 L402.82 178.08 L403.71 180.18 L404.58 182.28 L405.43 184.39 L406.26 186.50 L407.07 188.63 L407.87 190.76 L408.65 192.89 L409.40 195.03 L410.15 197.18 L410.87 199.33 L411.58 201.49 L412.26 203.66 L412.94 205.83 L413.59 208.00 L414.23 210.18 L414.86 212.37 L415.47 214.56 L416.06 216.76 L416.64 218.96 L417.21 221.16 L417.76 223.37 L418.29 225.59 L418.81 227.80 L419.32 230.03 L419.82 232.25 L420.30 234.48 L420.77 236.72 L421.22 238.96 L421.67 241.20 L422.10 243.44 L422.52 245.69 L422.93 247.94 L423.33 250.19 L423.71 252.45 L424.09 254.71 L424.45 256.97 L424.81 259.24 L425.15 261.51 L425.49 263.78 L425.82 266.05 L426.13 268.32 L426.44 270.60 L426.74 272.88 L427.03 275.16 L427.32 277.44 L427.60 279.72 L427.86 282.01 L428.13 284.29 L428.38 286.58 L428.63 288.87 L428.87 291.15 L429.11 293.44 L429.34 295.73 L429.56 298.02 L429.78 300.31 L429.99 302.60 L430.20 304.89 L430.41 307.18 L430.61 309.47 L430.81 311.76 L431.00 314.05 L431.19 316.34 L431.38 318.63 L431.56 320.92 L431.74 323.21 L431.92 325.49 L432.09 327.78 L432.27 330.06 L432.43 332.35 L432.60 334.63 L432.76 336.92 L432.93 339.20 L433.08 341.48 L433.24 343.77 L433.39 346.05 L433.54 348.33 L433.69 350.61 L433.83 352.89 L433.98 355.17 L434.12 357.45 L434.25 359.73 L434.39 362.01 L434.52 364.28 L434.65 366.56 L434.78 368.84 L434.90 371.12 L435.02 373.39 L435.14 375.67 L435.26 377.95 L435.38 380.22 L435.49 382.50 L435.60 384.77 L435.71 387.05 L435.82 389.32 L435.92 391.60 L436.03 393.87 L436.13 396.15 L436.23 398.42 L436.32 400.70 L436.42 402.97 L436.51 405.24 L436.60 407.52 L436.69 409.79 L436.78 412.07 L436.86 414.34 L436.95 416.61 L437.03 418.89 L437.11 421.16 L437.19 423.43 L437.27 425.71 L437.34 427.98 L437.41 430.26 L437.49 432.53 L437.56 434.80 L437.62 437.08 L437.69 439.35 L437.76 441.63 L437.82 443.90 L437.88 446.18 L437.95 448.45 L438.01 450.73 L438.06 453.00 L438.12 455.28 L438.18 457.56 L438.23 459.83 L438.29 462.11 L438.34 464.39 L438.39 466.66 L438.44 468.94 L438.49 471.22 L438.54 473.50 L438.58 475.78 L438.63 478.06 L438.68 480.34 L438.72 482.62 L438.76 484.90 L438.80 487.18 L438.85 489.46 L438.89 491.74 L438.93 494.02 L438.96 496.31 L439.00 498.59 L439.04 500.88 L439.08 503.16 L439.11 505.45 L439.15 507.73 L439.18 510.02 L439.22 512.31 L439.25 514.59 L439.28 516.88 L439.31 519.17 L439.35 521.46 L439.38 523.75 L439.41 526.04 L439.44 528.34 L439.47 530.63 L439.50 532.92 L439.53 535.22 L439.56 537.51 L439.59 539.81 L439.62 542.10 L439.64 544.40 L439.67 546.70 L439.70 549.00 L439.73 551.30 L439.76 553.60 L439.79 555.90 L439.81 558.21 L439.84 560.51 L439.87 562.82 L439.90 565.12" stroke="#00f" stroke-width="3.0" stroke-dasharray="12 8.7"/>
<path d="M440.59 564.96 L440.61 562.62 L440.63 560.28 L440.64 557.94 L440.66 555.59 L440.68 553.25 L440.69 550.90 L440.71 548.56 L440.73 546.21 L440.75 543.87 L440.77 541.52 L440.79 539.18 L440.80 536.83 L440.82 534.48 L440.84 532.13 L440.86 529.78 L440.89 527.44 L440.91 525.09 L440.93 522.74 L440.95 520.39 L440.98 518.04 L441.00 515.69 L441.03 513.34 L441.05 510.98 L441.08 508.63 L441.11 506.28 L441.14 503.93 L441.17 501.58 L441.20 499.22 L441.23 496.87 L441.27 494.52 L441.30 492.17 L441.34 489.81 L441.38 487.46 L441.42 485.11 L441.46 482.75 L441.50 480.40 L441.54 478.05 L441.59 475.69 L441.63 473.34 L441.68 470.98 L441.73 468.63 L441.78 466.28 L441.83 463.92 L441.89 461.57 L441.95 459.21 L442.01 456.86 L442.07 454.51 L442.13 452.15 L442.19 449.80 L442.26 447.44 L442.33 445.09 L442.40 442.74 L442.47 440.38 L442.55 438.03 L442.63 435.68 L442.71 433.32 L442.79 430.97 L442.87 428.62 L442.96 426.27 L443.05 423.91 L443.14 421.56 L443.24 419.21 L443.34 416.86 L443.44 414.51 L443.54 412.16 L443.64 409.81 L443.75 407.46 L443.86 405.11 L443.98 402.76 L444.10 400.41 L444.22 398.06 L444.34 395.71 L444.46 393.37 L444.59 391.02 L444.73 388.67 L444.86 386.32 L445.00 383.98 L445.14 381.63 L445.29 379.29 L445.44 376.94 L445.59 374.60 L445.75 372.26 L445.91 369.91 L446.07 367.57 L446.23 365.23 L446.41 362.89 L446.58 360.55 L446.76 358.21 L446.94 355.87 L447.12 353.53 L447.31 351.19 L447.50 348.86 L447.70 346.52 L447.90 344.18 L448.11 341.85 L448.32 339.51 L448.53 337.18 L448.75 334.85 L448.97 332.52 L449.19 330.18 L449.42 327.85 L449.66 325.52 L449.90 323.20 L450.15 320.87 L450.41 318.54 L450.67 316.21 L450.94 313.89 L451.22 311.56 L451.51 309.24 L451.81 306.91 L452.12 304.59 L452.43 302.27 L452.76 299.94 L453.10 297.62 L453.45 295.30 L453.82 292.98 L454.19 290.66 L454.58 288.34 L454.98 286.02 L455.40 283.70 L455.83 281.39 L456.27 279.07 L456.74 276.75 L457.21 274.44 L457.70 272.12 L458.21 269.81 L458.74 267.49 L459.28 265.18 L459.85 262.86 L460.43 260.55 L461.03 258.23 L461.65 255.92 L462.29 253.61 L462.95 251.30 L463.63 248.99 L464.33 246.67 L465.05 244.36 L465.80 242.05 L466.58 239.75 L467.42 237.49 L468.36 235.32 L469.44 233.29 L470.70 231.42 L472.18 229.76 L473.90 228.36 L475.83 227.25 L477.93 226.44 L480.15 225.97 L482.44 225.84 L484.74 226.05 L486.97 226.57 L489.09 227.36 L491.03 228.40 L492.82 229.67 L494.46 231.14 L495.97 232.80 L497.34 234.63 L498.61 236.60 L499.77 238.69 L500.85 240.89 L501.84 243.16 L502.77 245.49 L503.64 247.87 L504.47 250.26 L505.26 252.64 L506.04 255.01 L506.79 257.35 L507.52 259.68 L508.23 261.98 L508.92 264.27 L509.60 266.55 L510.25 268.82 L510.89 271.07 L511.51 273.32 L512.11 275.55 L512.69 277.79 L513.27 280.02 L513.82 282.25 L514.36 284.48 L514.89 286.71 L515.40 288.95 L515.90 291.20 L516.39 293.45 L516.86 295.71 L517.33 297.98 L517.78 300.25 L518.22 302.54 L518.66 304.83 L519.08 307.13 L519.49 309.43 L519.89 311.74 L520.28 314.06 L520.66 316.38 L521.04 318.70 L521.40 321.03 L521.76 323.36 L522.11 325.70 L522.46 328.04 L522.79 330.38 L523.12 332.72 L523.45 335.07 L523.77 337.41 L524.08 339.76 L524.38 342.11 L524.69 344.45 L524.98 346.80 L525.28 349.15 L525.56 351.49 L525.85 353.84 L526.12 356.18 L526.40 358.53 L526.67 360.87 L526.93 363.21 L527.19 365.56 L527.45 367.90 L527.70 370.25 L527.94 372.59 L528.19 374.93 L528.42 377.28 L528.66 379.62 L528.89 381.96 L529.11 384.30 L529.33 386.65 L529.55 388.99 L529.76 391.33 L529.97 393.67 L530.18 396.02 L530.38 398.36 L530.58 400.70 L530.77 403.04 L530.96 405.38 L531.14 407.73 L531.33 410.07 L531.50 412.41 L531.68 414.75 L531.85 417.09 L532.02 419.43 L532.18 421.78 L532.34 424.12 L532.50 426.46 L532.65 428.80 L532.81 431.14 L532.95 433.49 L533.10 435.83 L533.24 438.17 L533.37 440.51 L533.51 442.85 L533.64 445.20 L533.77 447.54 L533.89 449.88 L534.02 452.23 L534.14 454.57 L534.25 456.91 L534.37 459.25 L534.48 461.60 L534.59 463.94 L534.69 466.29 L534.79 468.63 L534.89 470.97 L534.99 473.32 L535.09 475.66 L535.18 478.01 L535.27 480.35 L535.36 482.70 L535.44 485.05 L535.52 487.39 L535.60 489.74 L535.68 492.09 L535.76 494.43 L535.83 496.78 L535.90 499.13 L535.97 501.48 L536.04 503.82 L536.11 506.17 L536.17 508.52 L536.23 510.87 L536.29 513.22 L536.35 515.57 L536.41 517.92 L536.46 520.27 L536.52 522.63 L536.57 524.98 L536.62 527.33 L536.66 529.68 L536.71 532.04 L536.75 534.39 L536.80 536.75 L536.84 539.10 L536.88 541.46 L536.92 543.81 L536.96 546.17 L537.00 548.53 L537.03 550.88 L537.06 553.24 L537.10 555.60 L537.13 557.96 L537.16 560.32 L537.19 562.68 L537.22 565.04" stroke="#00f" stroke-width="3.0" stroke-dasharray="12 8.7" stroke-dashoffset="16.33"/>
<path d="M542.40 565.04 L542.40 564.22 L542.41 563.40 L542.42 562.58 L542.43 561.76 L542.44 560.94 L542.45 560.12 L542.46 559.31 L542.47 558.49 L542.49 557.68 L542.50 556.86 L542.52 556.05 L542.53 555.24 L542.55 554.43 L542.56 553.62 L542.58 552.81 L542.60 552.00 L542.61 551.19 L542.63 550.39 L542.65 549.58 L542.67 548.77 L542.69 547.97 L542.71 547.17 L542.74 546.36 L542.76 545.56 L542.78 544.76 L542.81 543.96 L542.83 543.15 L542.86 542.35 L542.88 541.55 L542.91 540.75 L542.94 539.96 L542.96 539.16 L542.99 538.36 L543.02 537.56 L543.05 536.76 L543.08 535.97 L543.11 535.17 L543.14 534.38 L543.18 533.58 L543.21 532.78 L543.24 531.99 L543.28 531.19 L543.31 530.40 L543.35 529.60 L543.39 528.81 L543.42 528.02 L543.46 527.22 L543.50 526.43 L543.54 525.63 L543.58 524.84 L543.62 524.05 L543.66 523.25 L543.70 522.46 L543.74 521.67 L543.79 520.87 L543.83 520.08 L543.87 519.29 L543.92 518.49 L543.96 517.70 L544.01 516.91 L544.06 516.11 L544.10 515.32 L544.15 514.52 L544.20 513.73 L544.25 512.94 L544.30 512.14 L544.35 511.35 L544.40 510.55 L544.46 509.76 L544.51 508.96 L544.56 508.16 L544.62 507.37 L544.67 506.57 L544.73 505.77 L544.78 504.98 L544.84 504.18 L544.90 503.38 L544.96 502.58 L545.02 501.78 L545.07 500.98 L545.14 500.18 L545.20 499.38 L545.26 498.58 L545.32 497.77 L545.38 496.97 L545.45 496.17 L545.51 495.36 L545.57 494.56 L545.64 493.75 L545.71 492.95 L545.77 492.14 L545.84 491.33 L545.91 490.52 L545.98 489.71 L546.05 488.90 L546.12 488.09 L546.19 487.28 L546.26 486.47 L546.33 485.65 L546.41 484.84 L546.48 484.02 L546.55 483.21 L546.63 482.39 L546.70 481.57 L546.78 480.75 L546.86 479.93 L546.93 479.11 L547.01 478.29 L547.09 477.46 L547.17 476.64 L547.25 475.81 L547.33 474.99 L547.41 474.16 L547.50 473.33 L547.58 472.50 L547.67 471.67 L547.76 470.84 L547.85 470.01 L547.95 469.19 L548.06 468.37 L548.17 467.54 L548.28 466.73 L548.41 465.91 L548.54 465.10 L548.68 464.30 L548.83 463.50 L548.99 462.70 L549.16 461.91 L549.35 461.13 L549.54 460.35 L549.75 459.59 L549.97 458.83 L550.20 458.08 L550.45 457.33 L550.72 456.60 L551.00 455.88 L551.30 455.17 L551.61 454.46 L551.95 453.77 L552.30 453.10 L552.67 452.43 L553.07 451.78 L553.48 451.14 L553.91 450.51 L554.37 449.90 L554.85 449.30 L555.35 448.74 L555.87 448.24 L556.38 447.89 L556.89 447.74 L557.39 447.80 L557.88 448.06 L558.35 448.50 L558.80 449.09 L559.25 449.80 L559.67 450.62 L560.08 451.51 L560.47 452.46 L560.85 453.44 L561.20 454.42 L561.54 455.39 L561.86 456.34 L562.16 457.27 L562.45 458.17 L562.72 459.05 L562.97 459.92 L563.21 460.77 L563.44 461.60 L563.66 462.41 L563.86 463.22 L564.05 464.01 L564.24 464.78 L564.41 465.55 L564.58 466.31 L564.74 467.06 L564.89 467.80 L565.04 468.54 L565.18 469.27 L565.32 470.00 L565.45 470.73 L565.58 471.45 L565.71 472.18 L565.84 472.90 L565.97 473.63 L566.11 474.36 L566.24 475.10 L566.37 475.84 L566.51 476.59 L566.65 477.34 L566.80 478.10 L566.94 478.87 L567.09 479.63 L567.24 480.40 L567.39 481.18 L567.54 481.96 L567.69 482.74 L567.85 483.53 L568.00 484.32 L568.16 485.11 L568.31 485.90 L568.47 486.70 L568.63 487.50 L568.78 488.30 L568.94 489.10 L569.10 489.91 L569.25 490.71 L569.41 491.51 L569.57 492.32 L569.72 493.13 L569.88 493.93 L570.03 494.74 L570.18 495.54 L570.33 496.35 L570.48 497.15 L570.63 497.95 L570.78 498.75 L570.92 499.56 L571.07 500.36 L571.21 501.16 L571.35 501.96 L571.49 502.76 L571.63 503.56 L571.77 504.36 L571.91 505.16 L572.04 505.96 L572.18 506.75 L572.31 507.55 L572.44 508.35 L572.57 509.15 L572.70 509.94 L572.83 510.74 L572.96 511.54 L573.08 512.33 L573.21 513.13 L573.33 513.92 L573.45 514.72 L573.57 515.51 L573.69 516.31 L573.81 517.10 L573.92 517.90 L574.04 518.69 L574.15 519.48 L574.26 520.28 L574.37 521.07 L574.48 521.87 L574.59 522.66 L574.70 523.45 L574.80 524.25 L574.91 525.04 L575.01 525.83 L575.11 526.63 L575.21 527.42 L575.31 528.21 L575.40 529.01 L575.50 529.80 L575.59 530.59 L575.69 531.39 L575.78 532.18 L575.87 532.98 L575.96 533.77 L576.05 534.56 L576.13 535.36 L576.22 536.15 L576.30 536.95 L576.38 537.74 L576.46 538.54 L576.54 539.33 L576.62 540.13 L576.70 540.93 L576.77 541.72 L576.84 542.52 L576.92 543.32 L576.99 544.11 L577.06 544.91 L577.12 545.71 L577.19 546.51 L577.25 547.30 L577.32 548.10 L577.38 548.90 L577.44 549.70 L577.50 550.50 L577.56 551.30 L577.61 552.11 L577.67 552.91 L577.72 553.71 L577.77 554.51 L577.82 555.32 L577.87 556.12 L577.92 556.92 L577.97 557.73 L578.01 558.53 L578.05 559.34 L578.10 560.15 L578.14 560.95 L578.17 561.76 L578.21 562.57 L578.25 563.38 L578.28 564.19 L578.31 565.00" stroke="#00f" stroke-width="3.0" stroke-dasharray="12 8.7" stroke-dashoffset="17.62"/>
<path d="M153.08 39.27 L155.56 39.44 L158.03 39.61 L160.51 39.77 L163.00 39.91 L165.49 40.05 L167.98 40.17 L170.47 40.29 L172.97 40.40 L175.47 40.51 L177.97 40.60 L180.47 40.69 L182.98 40.77 L185.49 40.85 L188.00 40.92 L190.51 40.99 L193.03 41.05 L195.54 41.11 L198.06 41.17 L200.58 41.22 L203.10 41.27 L205.63 41.32 L208.15 41.37 L210.68 41.41 L213.20 41.46 L215.73 41.51 L218.26 41.56 L220.78 41.61 L223.31 41.66 L225.84 41.71 L228.37 41.77 L230.90 41.83 L233.43 41.89 L235.96 41.96 L238.49 42.03 L241.02 42.11 L243.54 42.20 L246.07 42.29 L248.60 42.38 L251.12 42.49 L253.65 42.60 L256.17 42.72 L258.70 42.85 L261.22 42.98 L263.74 43.13 L266.26 43.29 L268.78 43.46 L271.29 43.64 L273.80 43.83 L276.32 44.03 L278.83 44.25 L281.33 44.48 L283.84 44.72 L286.34 44.98 L288.84 45.25 L291.34 45.54 L293.83 45.84 L296.33 46.16 L298.81 46.49 L301.30 46.85 L303.78 47.22 L306.26 47.60 L308.74 48.01 L311.21 48.44 L313.68 48.88 L316.14 49.35 L318.60 49.84 L321.06 50.34 L323.51 50.87 L325.96 51.42 L328.40 52.00 L330.84 52.60 L333.28 53.22 L335.71 53.86 L338.13 54.53 L340.55 55.22 L342.97 55.94 L345.38 56.69 L347.78 57.46 L350.18 58.26 L352.56 59.09 L354.94 59.95 L357.31 60.84 L359.66 61.75 L362.00 62.70 L364.33 63.68 L366.64 64.69 L368.93 65.73 L371.21 66.81 L373.46 67.93 L375.70 69.07 L377.91 70.26 L380.10 71.48 L382.26 72.73 L384.40 74.03 L386.51 75.36 L388.60 76.73 L390.65 78.15 L392.68 79.60 L394.67 81.09 L396.63 82.63 L398.55 84.21 L400.44 85.83 L402.29 87.50 L404.10 89.21 L405.88 90.96 L407.62 92.75 L409.33 94.59 L411.00 96.46 L412.63 98.36 L414.23 100.30 L415.80 102.28 L417.34 104.28 L418.84 106.31 L420.31 108.37 L421.75 110.46 L423.16 112.57 L424.53 114.70 L425.88 116.85 L427.20 119.03 L428.50 121.21 L429.76 123.42 L431.00 125.64 L432.21 127.87 L433.39 130.11 L434.55 132.37 L435.68 134.64 L436.79 136.92 L437.87 139.21 L438.92 141.51 L439.95 143.82 L440.95 146.14 L441.92 148.46 L442.87 150.80 L443.80 153.15 L444.69 155.50 L445.57 157.86 L446.42 160.23 L447.24 162.61 L448.04 164.99 L448.82 167.38 L449.57 169.77 L450.30 172.17 L451.01 174.58 L451.70 176.99 L452.36 179.41 L453.01 181.83 L453.64 184.26 L454.25 186.69 L454.85 189.12 L455.42 191.56 L455.98 194.01 L456.53 196.45 L457.06 198.90 L457.58 201.36 L458.08 203.81 L458.57 206.27 L459.05 208.74 L459.52 211.20 L459.98 213.67 L460.43 216.14 L460.86 218.61 L461.29 221.08 L461.71 223.56 L462.12 226.03 L462.51 228.51 L462.90 230.99 L463.28 233.48 L463.65 235.96 L464.02 238.45 L464.37 240.93 L464.71 243.42 L465.05 245.91 L465.38 248.41 L465.70 250.90 L466.01 253.40 L466.32 255.89 L466.61 258.39 L466.90 260.89 L467.19 263.39 L467.46 265.89 L467.73 268.39 L468.00 270.90 L468.25 273.40 L468.50 275.91 L468.75 278.41 L468.99 280.92 L469.22 283.43 L469.45 285.94 L469.67 288.45 L469.89 290.96 L470.10 293.47 L470.31 295.98 L470.51 298.49 L470.71 301.01 L470.90 303.52 L471.09 306.03 L471.27 308.55 L471.46 311.06 L471.63 313.57 L471.81 316.09 L471.98 318.60 L472.15 321.12 L472.31 323.63 L472.47 326.15 L472.63 328.66 L472.79 331.18 L472.94 333.69 L473.10 336.21 L473.25 338.72 L473.40 341.23 L473.54 343.75 L473.69 346.26 L473.83 348.78 L473.97 351.29 L474.10 353.80 L474.24 356.32 L474.37 358.83 L474.50 361.34 L474.63 363.86 L474.76 366.37 L474.88 368.88 L475.00 371.39 L475.12 373.91 L475.24 376.42 L475.36 378.93 L475.47 381.44 L475.59 383.96 L475.70 386.47 L475.81 388.98 L475.91 391.49 L476.02 394.01 L476.12 396.52 L476.22 399.03 L476.32 401.54 L476.42 404.06 L476.51 406.57 L476.60 409.08 L476.70 411.59 L476.79 414.11 L476.87 416.62 L476.96 419.13 L477.05 421.64 L477.13 424.15 L477.21 426.67 L477.29 429.18 L477.37 431.69 L477.44 434.20 L477.52 436.72 L477.59 439.23 L477.66 441.74 L477.73 444.26 L477.80 446.77 L477.86 449.28 L477.93 451.79 L477.99 454.31 L478.05 456.82 L478.11 459.33 L478.17 461.85 L478.23 464.36 L478.28 466.87 L478.34 469.39 L478.39 471.90 L478.44 474.41 L478.49 476.93 L478.54 479.44 L478.58 481.96 L478.63 484.47 L478.67 486.98 L478.72 489.50 L478.76 492.01 L478.80 494.53 L478.84 497.04 L478.87 499.56 L478.91 502.07 L478.95 504.59 L478.98 507.10 L479.01 509.62 L479.04 512.14 L479.07 514.65 L479.10 517.17 L479.13 519.69 L479.16 522.20 L479.18 524.72 L479.20 527.24 L479.23 529.75 L479.25 532.27 L479.27 534.79 L479.29 537.31 L479.31 539.83 L479.33 542.34 L479.34 544.86 L479.36 547.38 L479.37 549.90 L479.39 552.42 L479.40 554.94 L479.41 557.46 L479.42 559.98 L479.43 562.50 L479.44 565.02" stroke="#0ff" stroke-width="1.1" stroke-dasharray="29.5 8.8"/>
<path d="M478.58 564.98 L478.64 562.41 L478.70 559.84 L478.75 557.28 L478.81 554.71 L478.86 552.14 L478.91 549.57 L478.97 547.00 L479.01 544.43 L479.06 541.86 L479.11 539.29 L479.16 536.71 L479.20 534.14 L479.24 531.57 L479.29 529.00 L479.33 526.43 L479.37 523.86 L479.41 521.29 L479.45 518.71 L479.49 516.14 L479.53 513.57 L479.56 511.00 L479.60 508.42 L479.64 505.85 L479.68 503.28 L479.71 500.71 L479.75 498.13 L479.79 495.56 L479.82 492.99 L479.86 490.41 L479.90 487.84 L479.93 485.27 L479.97 482.69 L480.01 480.12 L480.04 477.54 L480.08 474.97 L480.12 472.40 L480.16 469.82 L480.20 467.25 L480.24 464.67 L480.28 462.10 L480.32 459.53 L480.37 456.95 L480.41 454.38 L480.46 451.80 L480.50 449.23 L480.55 446.66 L480.60 444.08 L480.65 441.51 L480.70 438.94 L480.75 436.36 L480.81 433.79 L480.86 431.21 L480.92 428.64 L480.98 426.07 L481.04 423.49 L481.10 420.92 L481.17 418.35 L481.23 415.77 L481.30 413.20 L481.37 410.63 L481.45 408.05 L481.52 405.48 L481.60 402.91 L481.68 400.34 L481.76 397.76 L481.85 395.19 L481.93 392.62 L482.03 390.05 L482.12 387.48 L482.21 384.91 L482.31 382.33 L482.41 379.76 L482.52 377.19 L482.62 374.62 L482.74 372.05 L482.85 369.48 L482.97 366.91 L483.09 364.34 L483.21 361.77 L483.34 359.20 L483.47 356.63 L483.60 354.06 L483.74 351.50 L483.88 348.93 L484.02 346.36 L484.17 343.79 L484.33 341.22 L484.48 338.66 L484.64 336.09 L484.81 333.52 L484.98 330.96 L485.15 328.39 L485.33 325.82 L485.51 323.26 L485.70 320.69 L485.89 318.13 L486.08 315.57 L486.28 313.00 L486.49 310.44 L486.70 307.88 L486.91 305.31 L487.13 302.75 L487.36 300.19 L487.60 297.63 L487.84 295.07 L488.09 292.51 L488.34 289.95 L488.61 287.40 L488.89 284.84 L489.17 282.29 L489.47 279.73 L489.78 277.18 L490.10 274.63 L490.43 272.08 L490.78 269.54 L491.14 266.99 L491.51 264.45 L491.90 261.91 L492.30 259.37 L492.72 256.84 L493.15 254.31 L493.60 251.78 L494.07 249.25 L494.55 246.72 L495.06 244.20 L495.58 241.68 L496.12 239.17 L496.69 236.65 L497.27 234.14 L497.87 231.64 L498.50 229.13 L499.14 226.63 L499.81 224.14 L500.51 221.64 L501.22 219.15 L501.97 216.67 L502.78 214.20 L503.66 211.76 L504.63 209.34 L505.73 206.96 L506.97 204.62 L508.38 202.34 L509.97 200.11 L511.77 197.96 L513.74 195.96 L515.85 194.22 L518.05 192.84 L520.29 191.92 L522.54 191.57 L524.75 191.86 L526.90 192.71 L528.98 194.02 L530.95 195.66 L532.81 197.52 L534.55 199.49 L536.15 201.54 L537.63 203.66 L539.01 205.85 L540.28 208.11 L541.45 210.42 L542.54 212.77 L543.54 215.18 L544.48 217.62 L545.35 220.09 L546.16 222.59 L546.93 225.10 L547.66 227.63 L548.36 230.17 L549.03 232.71 L549.69 235.25 L550.33 237.77 L550.98 240.29 L551.61 242.80 L552.23 245.30 L552.84 247.80 L553.45 250.29 L554.04 252.78 L554.62 255.27 L555.19 257.75 L555.75 260.24 L556.30 262.72 L556.83 265.21 L557.36 267.71 L557.86 270.20 L558.36 272.71 L558.84 275.21 L559.31 277.72 L559.77 280.24 L560.22 282.76 L560.65 285.28 L561.07 287.81 L561.49 290.34 L561.89 292.88 L562.28 295.41 L562.66 297.95 L563.03 300.50 L563.40 303.04 L563.75 305.59 L564.10 308.14 L564.43 310.70 L564.76 313.25 L565.08 315.81 L565.39 318.37 L565.70 320.93 L566.00 323.49 L566.29 326.05 L566.58 328.62 L566.86 331.18 L567.13 333.75 L567.40 336.31 L567.67 338.88 L567.93 341.44 L568.18 344.01 L568.43 346.58 L568.68 349.14 L568.92 351.71 L569.16 354.27 L569.39 356.84 L569.62 359.41 L569.85 361.97 L570.07 364.54 L570.29 367.11 L570.50 369.67 L570.71 372.24 L570.91 374.80 L571.11 377.37 L571.31 379.94 L571.50 382.50 L571.69 385.07 L571.88 387.64 L572.06 390.20 L572.24 392.77 L572.41 395.34 L572.59 397.90 L572.75 400.47 L572.92 403.04 L573.08 405.60 L573.23 408.17 L573.39 410.74 L573.54 413.31 L573.68 415.87 L573.83 418.44 L573.97 421.01 L574.10 423.58 L574.23 426.14 L574.36 428.71 L574.49 431.28 L574.61 433.85 L574.73 436.41 L574.85 438.98 L574.97 441.55 L575.08 444.12 L575.19 446.69 L575.29 449.26 L575.39 451.82 L575.49 454.39 L575.59 456.96 L575.68 459.53 L575.77 462.10 L575.86 464.67 L575.95 467.24 L576.03 469.81 L576.11 472.38 L576.19 474.95 L576.26 477.52 L576.34 480.09 L576.41 482.66 L576.48 485.23 L576.54 487.80 L576.60 490.37 L576.67 492.94 L576.72 495.52 L576.78 498.09 L576.83 500.66 L576.89 503.23 L576.94 505.80 L576.98 508.37 L577.03 510.95 L577.07 513.52 L577.11 516.09 L577.15 518.67 L577.19 521.24 L577.23 523.81 L577.26 526.39 L577.29 528.96 L577.32 531.53 L577.35 534.11 L577.38 536.68 L577.40 539.26 L577.42 541.83 L577.45 544.41 L577.47 546.98 L577.48 549.56 L577.50 552.13 L577.52 554.71 L577.53 557.29 L577.54 559.86 L577.55 562.44 L577.56 565.02" stroke="#0ff" stroke-width="1.1" stroke-dasharray="29.5 8.8" stroke-dashoffset="14.63"/>
<path d="M581.01 564.96 L581.04 563.87 L581.06 562.78 L581.08 561.68 L581.11 560.59 L581.13 559.50 L581.15 558.40 L581.17 557.30 L581.20 556.21 L581.22 555.11 L581.24 554.01 L581.26 552.91 L581.28 551.82 L581.30 550.72 L581.32 549.62 L581.34 548.52 L581.37 547.42 L581.39 546.32 L581.41 545.22 L581.43 544.11 L581.45 543.01 L581.47 541.91 L581.49 540.81 L581.51 539.70 L581.53 538.60 L581.55 537.50 L581.57 536.39 L581.59 535.29 L581.61 534.18 L581.63 533.08 L581.65 531.97 L581.68 530.87 L581.70 529.76 L581.72 528.66 L581.74 527.55 L581.77 526.45 L581.79 525.34 L581.81 524.23 L581.84 523.13 L581.86 522.02 L581.89 520.91 L581.91 519.81 L581.94 518.70 L581.96 517.59 L581.99 516.49 L582.02 515.38 L582.05 514.27 L582.07 513.16 L582.10 512.06 L582.13 510.95 L582.16 509.84 L582.20 508.73 L582.23 507.63 L582.26 506.52 L582.29 505.41 L582.33 504.30 L582.36 503.20 L582.40 502.09 L582.44 500.98 L582.47 499.88 L582.51 498.77 L582.55 497.66 L582.59 496.56 L582.63 495.45 L582.68 494.34 L582.72 493.24 L582.76 492.13 L582.81 491.03 L582.86 489.92 L582.90 488.81 L582.95 487.71 L583.00 486.61 L583.05 485.50 L583.11 484.40 L583.16 483.29 L583.22 482.19 L583.27 481.09 L583.33 479.98 L583.39 478.88 L583.45 477.78 L583.51 476.68 L583.57 475.58 L583.64 474.47 L583.70 473.37 L583.77 472.27 L583.84 471.17 L583.91 470.07 L583.98 468.98 L584.05 467.88 L584.13 466.78 L584.21 465.68 L584.28 464.59 L584.36 463.49 L584.45 462.39 L584.53 461.30 L584.61 460.20 L584.70 459.11 L584.79 458.02 L584.88 456.92 L584.97 455.83 L585.06 454.74 L585.16 453.65 L585.26 452.56 L585.36 451.47 L585.46 450.38 L585.56 449.29 L585.67 448.20 L585.77 447.11 L585.88 446.03 L585.99 444.94 L586.11 443.86 L586.22 442.77 L586.34 441.69 L586.46 440.61 L586.58 439.53 L586.71 438.44 L586.83 437.36 L586.96 436.28 L587.09 435.20 L587.23 434.11 L587.37 433.03 L587.51 431.94 L587.65 430.85 L587.80 429.75 L587.95 428.65 L588.10 427.55 L588.26 426.44 L588.43 425.32 L588.59 424.20 L588.77 423.07 L588.94 421.93 L589.12 420.79 L589.31 419.64 L589.50 418.48 L589.71 417.32 L589.93 416.16 L590.17 415.01 L590.44 413.87 L590.74 412.75 L591.07 411.65 L591.45 410.57 L591.87 409.53 L592.34 408.52 L592.87 407.55 L593.46 406.63 L594.12 405.76 L594.84 404.96 L595.60 404.29 L596.37 403.79 L597.14 403.53 L597.87 403.57 L598.55 403.89 L599.20 404.45 L599.81 405.23 L600.39 406.17 L600.94 407.25 L601.46 408.43 L601.95 409.66 L602.41 410.90 L602.86 412.14 L603.28 413.35 L603.69 414.54 L604.07 415.71 L604.44 416.87 L604.79 418.00 L605.13 419.13 L605.45 420.23 L605.75 421.33 L606.04 422.41 L606.32 423.49 L606.59 424.55 L606.85 425.60 L607.10 426.65 L607.33 427.69 L607.56 428.73 L607.79 429.76 L608.01 430.79 L608.22 431.82 L608.43 432.85 L608.63 433.88 L608.84 434.91 L609.04 435.94 L609.24 436.98 L609.44 438.02 L609.63 439.06 L609.83 440.11 L610.02 441.16 L610.22 442.21 L610.41 443.27 L610.60 444.33 L610.79 445.39 L610.98 446.46 L611.17 447.52 L611.35 448.59 L611.54 449.67 L611.72 450.74 L611.91 451.82 L612.09 452.90 L612.27 453.98 L612.45 455.06 L612.62 456.15 L612.80 457.23 L612.97 458.32 L613.15 459.41 L613.32 460.50 L613.49 461.60 L613.66 462.69 L613.83 463.79 L614.00 464.89 L614.17 465.99 L614.33 467.09 L614.49 468.19 L614.66 469.29 L614.82 470.39 L614.98 471.49 L615.14 472.60 L615.30 473.70 L615.45 474.81 L615.61 475.91 L615.76 477.02 L615.92 478.13 L616.07 479.23 L616.22 480.34 L616.37 481.45 L616.52 482.55 L616.66 483.66 L616.81 484.76 L616.95 485.87 L617.10 486.98 L617.24 488.08 L617.38 489.18 L617.52 490.29 L617.66 491.39 L617.80 492.49 L617.93 493.59 L618.07 494.70 L618.20 495.80 L618.33 496.90 L618.47 497.99 L618.59 499.09 L618.72 500.19 L618.85 501.29 L618.98 502.39 L619.10 503.48 L619.22 504.58 L619.35 505.67 L619.47 506.77 L619.59 507.86 L619.71 508.96 L619.82 510.05 L619.94 511.15 L620.05 512.24 L620.16 513.34 L620.28 514.43 L620.38 515.52 L620.49 516.62 L620.60 517.71 L620.71 518.80 L620.81 519.90 L620.91 520.99 L621.01 522.08 L621.11 523.18 L621.21 524.27 L621.31 525.36 L621.40 526.46 L621.50 527.55 L621.59 528.64 L621.68 529.74 L621.77 530.83 L621.86 531.93 L621.94 533.02 L622.03 534.12 L622.11 535.21 L622.19 536.31 L622.27 537.41 L622.35 538.50 L622.43 539.60 L622.50 540.70 L622.57 541.79 L622.65 542.89 L622.72 543.99 L622.78 545.09 L622.85 546.19 L622.92 547.29 L622.98 548.39 L623.04 549.50 L623.10 550.60 L623.16 551.70 L623.22 552.81 L623.27 553.91 L623.32 555.02 L623.38 556.13 L623.43 557.23 L623.47 558.34 L623.52 559.45 L623.56 560.56 L623.61 561.67 L623.65 562.79 L623.69 563.90 L623.72 565.02" stroke="#0ff" stroke-width="1.1" stroke-dasharray="29.5 8.8" stroke-dashoffset="16.24"/>
</g>
<g opacity="0.999">
<text x="59.57" y="125.58" font-size="43.26" textLength="17.10" lengthAdjust="spacingAndGlyphs" fill="#000">1</text>
<text x="79.97" y="125.98" font-size="42.20" textLength="24.33" lengthAdjust="spacingAndGlyphs" fill="#000">0</text>
<text x="105.96" y="115.32" font-size="26.69" textLength="14.66" lengthAdjust="spacingAndGlyphs" fill="#000" stroke="#000" stroke-width="0.60">−</text>
<text x="122.99" y="113.75" font-size="23.32" textLength="12.83" lengthAdjust="spacingAndGlyphs" fill="#000" stroke="#000" stroke-width="0.90">4</text>
<text x="59.57" y="341.14" font-size="43.26" textLength="17.10" lengthAdjust="spacingAndGlyphs" fill="#000">1</text>
<text x="79.97" y="341.54" font-size="42.20" textLength="24.33" lengthAdjust="spacingAndGlyphs" fill="#000">0</text>
<text x="105.96" y="330.88" font-size="26.69" textLength="14.66" lengthAdjust="spacingAndGlyphs" fill="#000" stroke="#000" stroke-width="0.60">−</text>
<text x="121.90" y="329.31" font-size="23.38" textLength="14.42" lengthAdjust="spacingAndGlyphs" fill="#000" stroke="#000" stroke-width="0.90">5</text>
<text x="59.57" y="556.70" font-size="43.26" textLength="17.10" lengthAdjust="spacingAndGlyphs" fill="#000">1</text>
<text x="79.97" y="557.10" font-size="42.20" textLength="24.33" lengthAdjust="spacingAndGlyphs" fill="#000">0</text>
<text x="105.96" y="546.44" font-size="26.69" textLength="14.66" lengthAdjust="spacingAndGlyphs" fill="#000" stroke="#000" stroke-width="0.60">−</text>
<text x="122.46" y="544.96" font-size="22.56" textLength="13.63" lengthAdjust="spacingAndGlyphs" fill="#000" stroke="#000" stroke-width="0.90">6</text>
<text x="233.96" y="590.60" font-size="41.88" textLength="23.99" lengthAdjust="spacingAndGlyphs" fill="#000">0</text>
<text x="257.04" y="590.50" font-size="49.51" textLength="12.82" lengthAdjust="spacingAndGlyphs" fill="#000">.</text>
<text x="268.61" y="590.60" font-size="41.87" textLength="23.76" lengthAdjust="spacingAndGlyphs" fill="#000">0</text>
<text x="292.90" y="590.60" font-size="41.87" textLength="24.03" lengthAdjust="spacingAndGlyphs" fill="#000">0</text>
<text x="320.69" y="590.20" font-size="41.38" textLength="16.25" lengthAdjust="spacingAndGlyphs" fill="#000">1</text>
<text x="514.51" y="590.60" font-size="41.87" textLength="23.83" lengthAdjust="spacingAndGlyphs" fill="#000">0</text>
<text x="537.34" y="590.50" font-size="49.51" textLength="12.82" lengthAdjust="spacingAndGlyphs" fill="#000">.</text>
<text x="549.20" y="590.60" font-size="41.87" textLength="24.03" lengthAdjust="spacingAndGlyphs" fill="#000">0</text>
<text x="576.77" y="590.20" font-size="41.36" textLength="17.04" lengthAdjust="spacingAndGlyphs" fill="#000">1</text>
<text x="218.73" y="641.20" font-size="37.39" textLength="22.87" lengthAdjust="spacingAndGlyphs" fill="#000">k</text>
<text x="243.39" y="641.50" font-size="39.76" textLength="21.12" lengthAdjust="spacingAndGlyphs" fill="#000" font-style="italic">θ</text>
<text x="267.03" y="639.74" font-size="43.62" textLength="13.44" lengthAdjust="spacingAndGlyphs" fill="#000">(</text>
<text x="282.45" y="641.20" font-size="37.39" textLength="22.82" lengthAdjust="spacingAndGlyphs" fill="#000">h</text>
<text x="329.08" y="641.20" font-size="41.93" textLength="30.46" lengthAdjust="spacingAndGlyphs" fill="#000">M</text>
<text x="359.63" y="639.90" font-size="40.68" textLength="24.85" lengthAdjust="spacingAndGlyphs" fill="#000">p</text>
<text x="382.59" y="641.50" font-size="43.23" textLength="21.42" lengthAdjust="spacingAndGlyphs" fill="#000">c</text>
<text x="405.91" y="631.66" font-size="28.15" textLength="15.35" lengthAdjust="spacingAndGlyphs" fill="#000" stroke="#000" stroke-width="0.60">−</text>
<text x="424.89" y="629.37" font-size="24.88" textLength="10.24" lengthAdjust="spacingAndGlyphs" fill="#000" stroke="#000" stroke-width="0.90">1</text>
<text x="456.59" y="641.20" font-size="41.58" textLength="19.97" lengthAdjust="spacingAndGlyphs" fill="#000">r</text>
<text x="477.01" y="641.50" font-size="43.22" textLength="22.69" lengthAdjust="spacingAndGlyphs" fill="#000">a</text>
<text x="500.67" y="641.50" font-size="38.41" textLength="23.53" lengthAdjust="spacingAndGlyphs" fill="#000">d</text>
<text x="525.87" y="641.20" font-size="39.86" textLength="11.88" lengthAdjust="spacingAndGlyphs" fill="#000">i</text>
<text x="537.89" y="641.50" font-size="43.22" textLength="23.14" lengthAdjust="spacingAndGlyphs" fill="#000">a</text>
<text x="561.99" y="641.20" font-size="41.38" textLength="23.91" lengthAdjust="spacingAndGlyphs" fill="#000">n</text>
<text x="586.89" y="641.50" font-size="43.21" textLength="21.26" lengthAdjust="spacingAndGlyphs" fill="#000">s</text>
<text x="609.48" y="639.92" font-size="44.13" textLength="12.93" lengthAdjust="spacingAndGlyphs" fill="#000">)</text>
<text x="187.44" y="174.95" font-size="30.96" textLength="17.86" lengthAdjust="spacingAndGlyphs" fill="#f00" stroke="#f00" stroke-width="0.60">2</text>
<text x="207.65" y="174.95" font-size="32.39" textLength="11.57" lengthAdjust="spacingAndGlyphs" fill="#f00" stroke="#f00" stroke-width="0.60">1</text>
<text x="223.87" y="176.59" font-size="32.56" textLength="18.24" lengthAdjust="spacingAndGlyphs" fill="#f00" stroke="#f00" stroke-width="0.70">−</text>
<text x="245.54" y="174.95" font-size="30.96" textLength="17.86" lengthAdjust="spacingAndGlyphs" fill="#f00" stroke="#f00" stroke-width="0.60">2</text>
<text x="263.08" y="174.95" font-size="30.92" textLength="16.96" lengthAdjust="spacingAndGlyphs" fill="#f00" stroke="#f00" stroke-width="0.60">2</text>
<text x="404.74" y="77.85" font-size="29.28" textLength="11.71" lengthAdjust="spacingAndGlyphs" fill="#0ff" stroke="#0ff" stroke-width="0.60">1</text>
<text x="418.90" y="77.85" font-size="31.53" textLength="18.18" lengthAdjust="spacingAndGlyphs" fill="#0ff" stroke="#0ff" stroke-width="0.60">8</text>
<text x="438.37" y="80.51" font-size="34.61" textLength="19.42" lengthAdjust="spacingAndGlyphs" fill="#0ff" stroke="#0ff" stroke-width="0.70">−</text>
<text x="462.51" y="77.85" font-size="28.88" textLength="11.16" lengthAdjust="spacingAndGlyphs" fill="#0ff" stroke="#0ff" stroke-width="0.60">1</text>
<text x="477.55" y="77.85" font-size="31.45" textLength="17.33" lengthAdjust="spacingAndGlyphs" fill="#0ff" stroke="#0ff" stroke-width="0.60">9</text>
<g transform="translate(33.9 386) rotate(-90)">
<text x="0.76" y="0.34" font-size="38.17" textLength="25.33" lengthAdjust="spacingAndGlyphs" fill="#000">w</text>
<text x="27.88" y="-2.00" font-size="42.49" textLength="15.02" lengthAdjust="spacingAndGlyphs" fill="#000">(</text>
<text x="41.24" y="0.50" font-size="40.66" textLength="20.39" lengthAdjust="spacingAndGlyphs" fill="#000" font-style="italic">θ</text>
<text x="65.02" y="-2.00" font-size="42.35" textLength="14.97" lengthAdjust="spacingAndGlyphs" fill="#000">)</text>
<text x="101.81" y="0.30" font-size="41.92" textLength="30.47" lengthAdjust="spacingAndGlyphs" fill="#000">K</text>
<text x="133.01" y="0.60" font-size="39.06" textLength="21.76" lengthAdjust="spacingAndGlyphs" fill="#000">e</text>
<text x="155.12" y="0.30" font-size="37.99" textLength="17.62" lengthAdjust="spacingAndGlyphs" fill="#000">r</text>
<text x="173.15" y="0.30" font-size="37.83" textLength="25.09" lengthAdjust="spacingAndGlyphs" fill="#000">n</text>
<text x="198.83" y="0.60" font-size="40.02" textLength="20.19" lengthAdjust="spacingAndGlyphs" fill="#000">e</text>
<text x="219.14" y="0.30" font-size="39.85" textLength="8.91" lengthAdjust="spacingAndGlyphs" fill="#000">l</text>
</g>
</g>
</svg></body></html>
